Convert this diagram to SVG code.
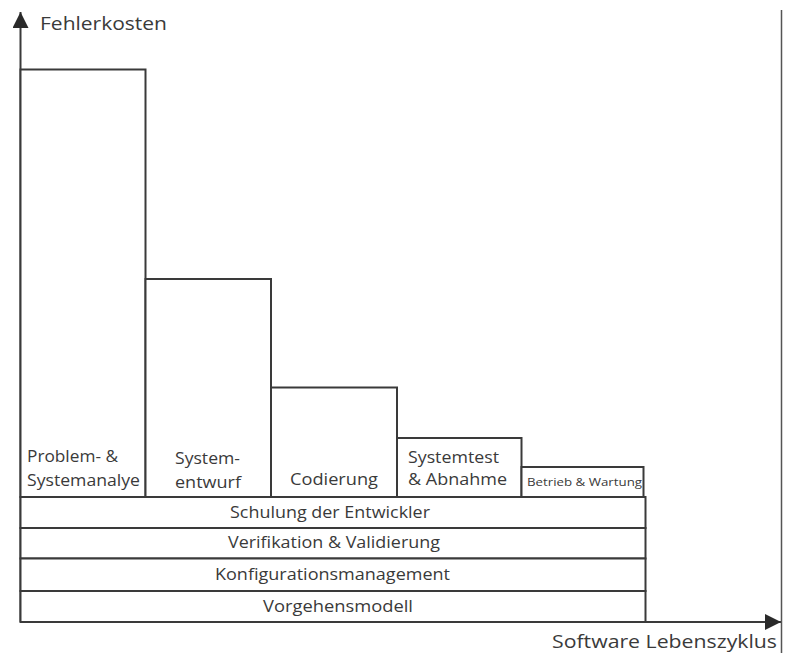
<svg xmlns="http://www.w3.org/2000/svg" width="789" height="653" viewBox="0 0 789 653">
<defs>
<style>
.box{fill:#ffffff;stroke:#3a3a3a;stroke-width:2}
.ax{fill:none;stroke:#3a3a3a;stroke-width:2}
.rl{fill:none;stroke:#555555;stroke-width:1.5}
.t{font-family:"Open Sans","Noto Sans",sans-serif;fill:#3a3a3a;font-size:15.5px}
.big{font-size:19px}
.sm{font-size:10.5px}
.c{text-anchor:middle}
</style>
<marker id="ah" viewBox="0 0 16 16" refX="16" refY="8" markerWidth="16" markerHeight="16" markerUnits="userSpaceOnUse" orient="auto">
<path d="M0,0 L16,8 L0,16 Z" fill="#2a2a2a"/>
</marker>
</defs>
<rect width="789" height="653" fill="#ffffff"/>
<g id="connectors">
<line class="ax" x1="20.5" y1="622" x2="20.5" y2="12" marker-end="url(#ah)"/>
<line class="ax" x1="20" y1="622" x2="781" y2="622" marker-end="url(#ah)"/>
<line class="rl" x1="781.5" y1="10" x2="781.5" y2="653"/>
</g>
<g id="phase1"><rect class="box" x="20.5" y="69.5" width="125" height="427.5"/>
<text class="t" x="27" y="462" textLength="91" lengthAdjust="spacingAndGlyphs">Problem- &amp;</text>
<text class="t" x="27" y="486" textLength="113" lengthAdjust="spacingAndGlyphs">Systemanalye</text></g>
<g id="phase2"><rect class="box" x="145.5" y="279" width="125.5" height="218"/>
<text class="t" x="175" y="464" textLength="65" lengthAdjust="spacingAndGlyphs">System-</text>
<text class="t" x="175" y="488" textLength="66" lengthAdjust="spacingAndGlyphs">entwurf</text></g>
<g id="phase3"><rect class="box" x="271" y="387.5" width="126" height="109.5"/>
<text class="t" x="290" y="485" textLength="88" lengthAdjust="spacingAndGlyphs">Codierung</text></g>
<g id="phase4"><rect class="box" x="397" y="438" width="124.5" height="59"/>
<text class="t" x="408" y="463" textLength="91" lengthAdjust="spacingAndGlyphs">Systemtest</text>
<text class="t" x="408" y="485" textLength="99" lengthAdjust="spacingAndGlyphs">&amp; Abnahme</text></g>
<g id="phase5"><rect class="box" x="521.5" y="467" width="122" height="30"/>
<text class="t sm" x="527" y="486" textLength="115" lengthAdjust="spacingAndGlyphs">Betrieb &amp; Wartung</text></g>
<g id="band1"><rect class="box" x="20.5" y="497" width="625" height="31"/>
<text class="t" x="230" y="518" textLength="200" lengthAdjust="spacingAndGlyphs">Schulung der Entwickler</text></g>
<g id="band2"><rect class="box" x="20.5" y="528" width="625" height="30.5"/>
<text class="t" x="228" y="548" textLength="212" lengthAdjust="spacingAndGlyphs">Verifikation &amp; Validierung</text></g>
<g id="band3"><rect class="box" x="20.5" y="558.5" width="625" height="32.5"/>
<text class="t" x="215" y="580" textLength="235" lengthAdjust="spacingAndGlyphs">Konfigurationsmanagement</text></g>
<g id="band4"><rect class="box" x="20.5" y="591" width="625" height="31"/>
<text class="t" x="263" y="612" textLength="150" lengthAdjust="spacingAndGlyphs">Vorgehensmodell</text></g>
<g id="labels">
<text class="t big" x="40" y="30" textLength="127" lengthAdjust="spacingAndGlyphs">Fehlerkosten</text>
<text class="t big" x="552" y="648" textLength="225" lengthAdjust="spacingAndGlyphs">Software Lebenszyklus</text>
</g>
</svg>
